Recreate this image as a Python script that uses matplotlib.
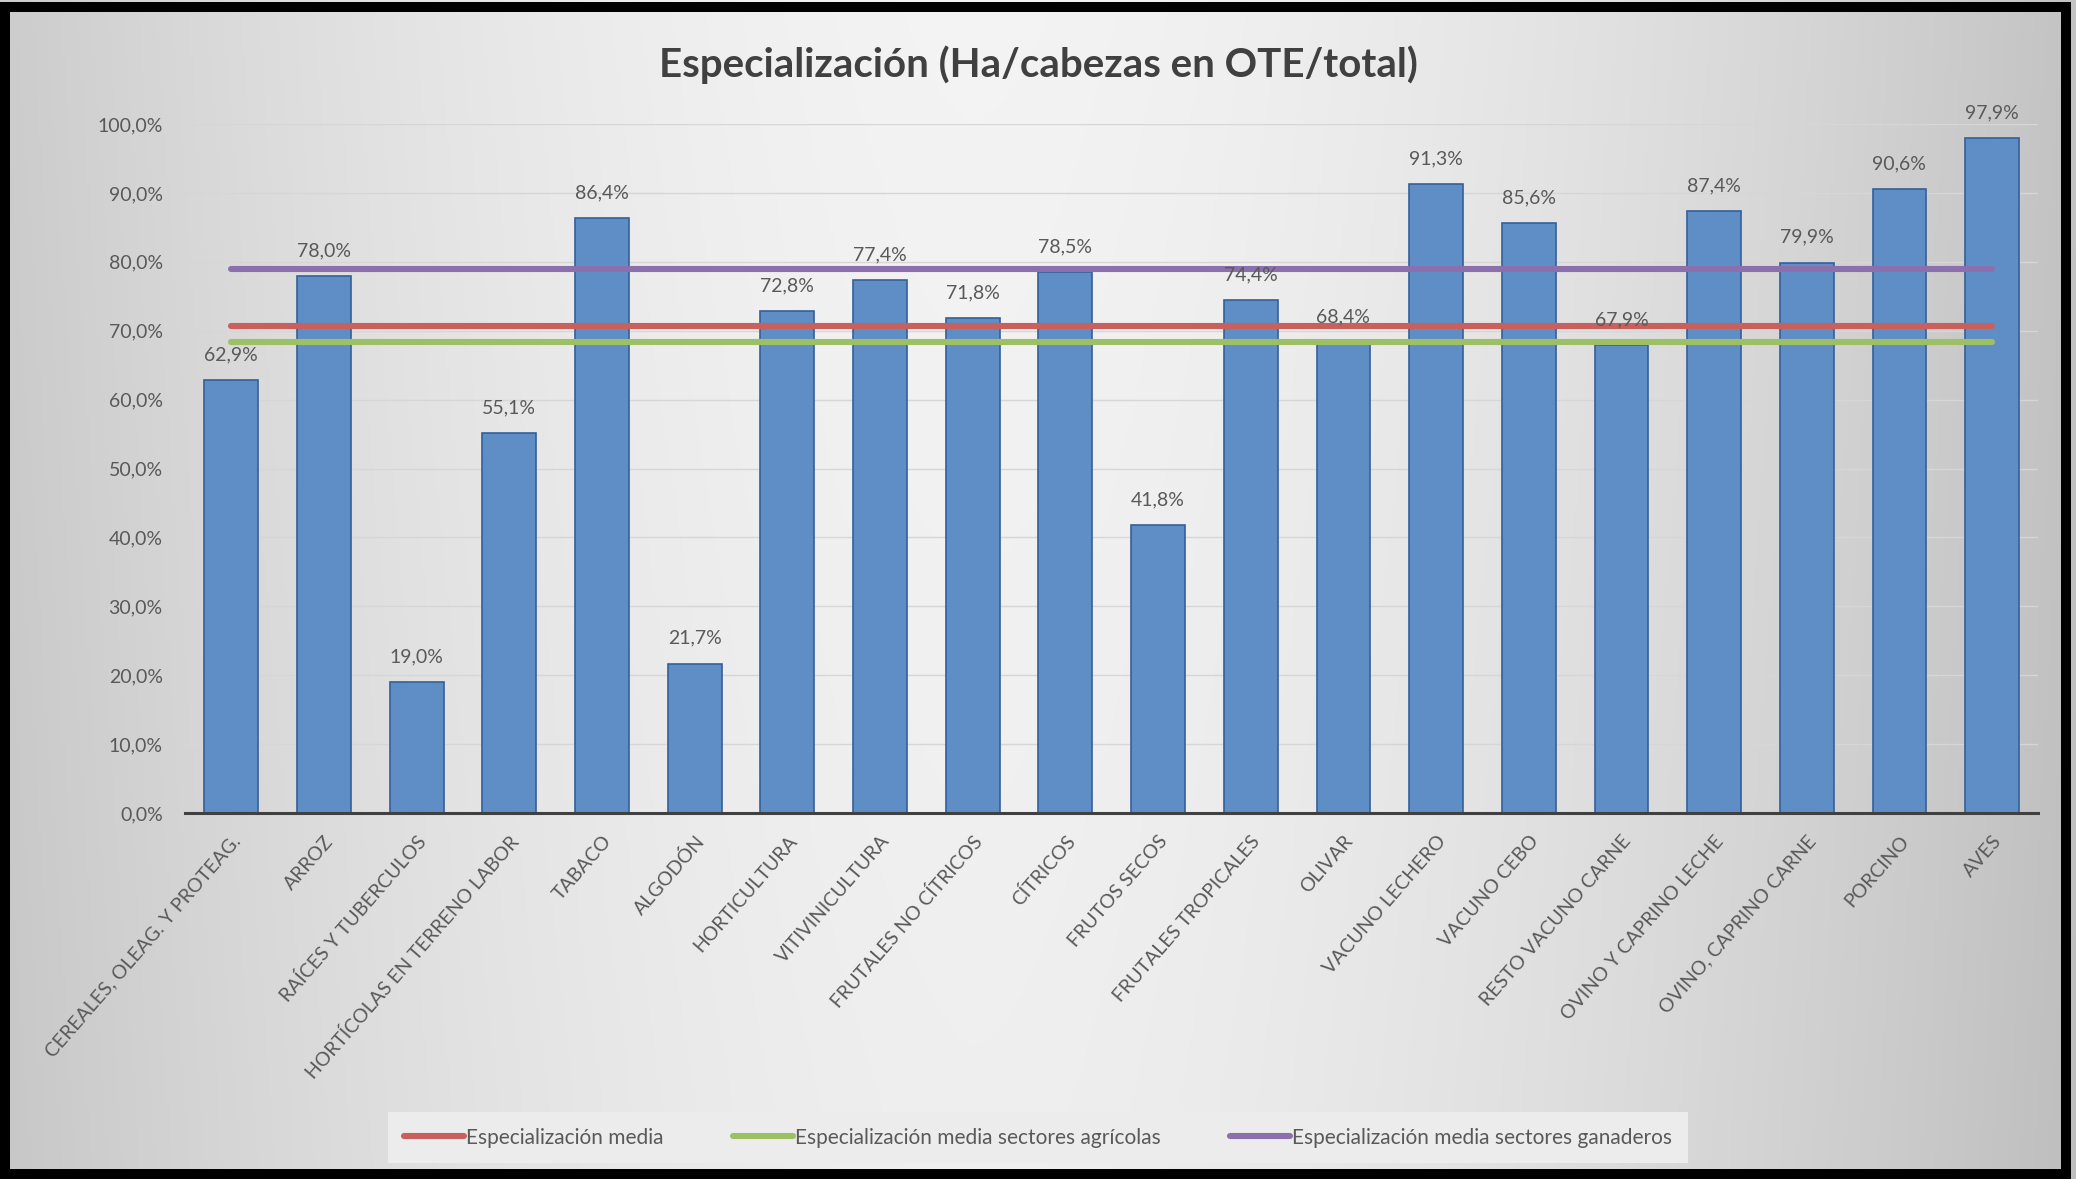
import numpy as np
import matplotlib
matplotlib.use("Agg")
import matplotlib.pyplot as plt
from matplotlib.patches import Rectangle

# ---- data ----
categories = [
    "CEREALES, OLEAG. Y PROTEAG.", "ARROZ", "RAÍCES Y TUBERCULOS",
    "HORTÍCOLAS EN TERRENO LABOR", "TABACO", "ALGODÓN", "HORTICULTURA",
    "VITIVINICULTURA", "FRUTALES NO CÍTRICOS", "CÍTRICOS", "FRUTOS SECOS",
    "FRUTALES TROPICALES", "OLIVAR", "VACUNO LECHERO", "VACUNO CEBO",
    "RESTO VACUNO CARNE", "OVINO Y CAPRINO LECHE", "OVINO, CAPRINO CARNE",
    "PORCINO", "AVES",
]
especializacion = [62.9, 78.0, 19.0, 55.1, 86.4, 21.7, 72.8, 77.4, 71.8, 78.5,
                   41.8, 74.4, 68.4, 91.3, 85.6, 67.9, 87.4, 79.9, 90.6, 97.9]
media_total = 70.7
media_agricolas = 68.3
media_ganaderos = 79.0
line_labels = ["Especialización media",
               "Especialización media sectores agrícolas",
               "Especialización media sectores ganaderos"]
yticks = [0, 10, 20, 30, 40, 50, 60, 70, 80, 90, 100]

plt.rcParams["font.family"] = ["Lato", "DejaVu Sans"]
TXT = "#595959"

fig = plt.figure(figsize=(20.76, 11.79), dpi=100)

# background gradient (dark edges, light centre)
bg = fig.add_axes([0, 0, 1, 1], zorder=-10)
xx = np.linspace(0, 1, 600)
yy = np.linspace(0, 1, 300)
X, Y = np.meshgrid(xx, yy)
g = 0.955 - 0.19 * (np.abs(X - 0.47) / 0.53) ** 1.7 - 0.02 * Y
bg.imshow(np.dstack([g, g, g]), aspect="auto", extent=[0, 1, 0, 1], origin="upper")
bg.set_axis_off()

ax = fig.add_axes([0.0891, 0.3104, 0.8928, 0.5844])
ax.set_facecolor("none")

x = np.arange(len(categories))
bars = ax.bar(x, especializacion, width=0.58, color="#5f8ec6",
              edgecolor="#34609a", linewidth=1.2, zorder=2)
for xi, v in zip(x, especializacion):
    ax.annotate(f"{v:.1f}%".replace(".", ","), (xi, v), xytext=(0, 12),
                textcoords="offset points", ha="center", va="bottom",
                fontsize=14, color=TXT, zorder=5)

ax.plot(x, [media_total] * len(x), color="#c8605d", lw=4.4,
        solid_capstyle="round", zorder=3, label=line_labels[0])
ax.plot(x, [media_agricolas] * len(x), color="#9dbf66", lw=4.4,
        solid_capstyle="round", zorder=3, label=line_labels[1])
ax.plot(x, [media_ganaderos] * len(x), color="#8c70ad", lw=4.4,
        solid_capstyle="round", zorder=3, label=line_labels[2])

ax.set_xlim(-0.5, len(categories) - 0.5)
ax.set_ylim(0, 100)
ax.set_yticks(yticks)
ax.set_yticklabels([f"{t:.1f}%".replace(".", ",") for t in yticks])
ax.grid(axis="y", color="#d6d6d6", lw=1, zorder=0)
ax.set_axisbelow(True)
for s in ["top", "right", "left"]:
    ax.spines[s].set_visible(False)
ax.spines["bottom"].set_color("#404040")
ax.spines["bottom"].set_linewidth(2.2)
ax.spines["bottom"].set_zorder(4)
ax.tick_params(axis="y", length=0, labelsize=14, labelcolor=TXT, pad=16)
ax.tick_params(axis="x", length=0, labelsize=14, labelcolor=TXT, pad=14)
ax.set_xticks(x)
ax.set_xticklabels(categories, rotation=49, ha="right", rotation_mode="anchor")

fig.text(0.5, 0.945, "Especialización (Ha/cabezas en OTE/total)", ha="center",
         va="center", fontsize=29, fontweight="bold", color="#404040")

leg = fig.legend(loc="center", bbox_to_anchor=(0.5, 0.035), ncol=3,
                 frameon=True, fancybox=False, fontsize=15, handlelength=2.9,
                 handletextpad=0.1, columnspacing=3.3, borderpad=0.75)
leg.get_frame().set_facecolor("#ececec")
leg.get_frame().set_edgecolor("none")
leg.get_frame().set_alpha(1)
for t in leg.get_texts():
    t.set_color(TXT)

fig.patches.append(Rectangle((0.0022, 0.0042), 0.993, 0.9898, transform=fig.transFigure,
                             fill=False, edgecolor="black", linewidth=7.2, zorder=20))

fig.savefig("out.png", dpi=100)
